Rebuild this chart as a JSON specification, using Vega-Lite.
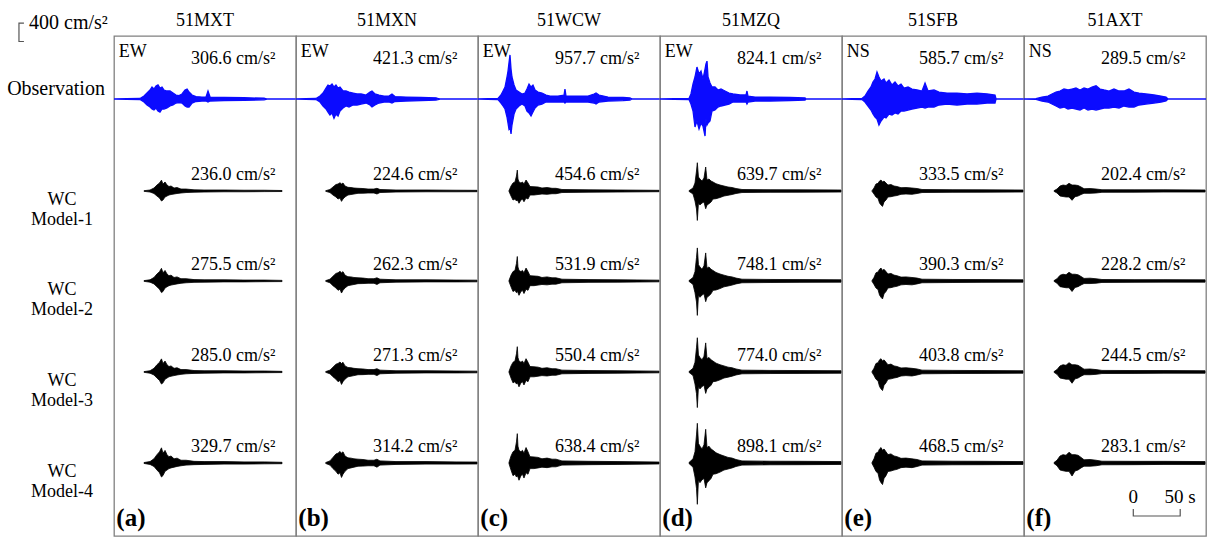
{
"$schema": "https://vega.github.io/schema/vega-lite/v6.json",
"background": "white",
"padding": {"left": 6, "top": 12, "right": 0, "bottom": 0},
"data": {"values": "k,s,r,t,hi,lo,o,lab\nw,51MXT,O,0,0,0\nw,51MXT,O,27.7,11,-11\nw,51MXT,O,32,65,-65\nw,51MXT,O,35.2,130,-130\nw,51MXT,O,38.4,196,-174\nw,51MXT,O,40.5,261,-217\nw,51MXT,O,42.6,217,-239\nw,51MXT,O,44.8,283,-196\nw,51MXT,O,46.9,306,-261\nw,51MXT,O,49,239,-283\nw,51MXT,O,51.2,261,-217\nw,51MXT,O,53.3,196,-217\nw,51MXT,O,56.5,174,-196\nw,51MXT,O,59.7,174,-152\nw,51MXT,O,62.9,130,-130\nw,51MXT,O,66.1,87,-87\nw,51MXT,O,69.3,76,-76\nw,51MXT,O,72.5,109,-87\nw,51MXT,O,75.7,196,-152\nw,51MXT,O,77.9,217,-174\nw,51MXT,O,80,152,-174\nw,51MXT,O,83.2,87,-87\nw,51MXT,O,87.4,54,-54\nw,51MXT,O,93.8,43,-43\nw,51MXT,O,98.1,43,-43\nw,51MXT,O,100.2,174,-65\nw,51MXT,O,102.4,43,-43\nw,51MXT,O,117.3,33,-33\nw,51MXT,O,138.6,28,-28\nw,51MXT,O,160,17,-17\nw,51MXT,O,163,0,0\nw,51MXT,O,194,0,0\nw,51MXN,O,0,0,0\nw,51MXN,O,21.3,11,-11\nw,51MXN,O,25.6,65,-65\nw,51MXN,O,28.8,130,-152\nw,51MXN,O,32,239,-217\nw,51MXN,O,34.1,304,-283\nw,51MXN,O,36.2,283,-348\nw,51MXN,O,38.4,326,-304\nw,51MXN,O,40.5,261,-421\nw,51MXN,O,42.6,304,-326\nw,51MXN,O,44.8,239,-370\nw,51MXN,O,46.9,261,-261\nw,51MXN,O,50.1,174,-196\nw,51MXN,O,53.3,174,-152\nw,51MXN,O,56.5,152,-174\nw,51MXN,O,60.8,130,-130\nw,51MXN,O,65,109,-130\nw,51MXN,O,69.3,109,-109\nw,51MXN,O,74.6,87,-87\nw,51MXN,O,78.9,152,-130\nw,51MXN,O,81,174,-174\nw,51MXN,O,84.2,109,-130\nw,51MXN,O,88.5,87,-87\nw,51MXN,O,93.8,65,-65\nw,51MXN,O,99.1,65,-65\nw,51MXN,O,102.3,109,-87\nw,51MXN,O,105.5,54,-54\nw,51MXN,O,117.3,43,-43\nw,51MXN,O,133.3,33,-33\nw,51MXN,O,149.2,26,-22\nw,51MXN,O,153.5,0,0\nw,51MXN,O,194,0,0\nw,51WCW,O,0,0,0\nw,51WCW,O,21.3,11,-11\nw,51WCW,O,24.5,87,-87\nw,51WCW,O,26.7,174,-152\nw,51WCW,O,28.8,261,-217\nw,51WCW,O,30.9,478,-391\nw,51WCW,O,32,609,-522\nw,51WCW,O,33,783,-652\nw,51WCW,O,34.1,958,-609\nw,51WCW,O,35.2,652,-761\nw,51WCW,O,36.2,478,-565\nw,51WCW,O,38.4,304,-326\nw,51WCW,O,40.5,196,-217\nw,51WCW,O,43.7,152,-152\nw,51WCW,O,46.9,109,-109\nw,51WCW,O,50.1,130,-152\nw,51WCW,O,52.2,217,-261\nw,51WCW,O,54.4,326,-304\nw,51WCW,O,56.5,261,-370\nw,51WCW,O,58.6,304,-283\nw,51WCW,O,60.8,196,-196\nw,51WCW,O,64,152,-130\nw,51WCW,O,68.2,130,-109\nw,51WCW,O,72.5,87,-65\nw,51WCW,O,76.8,65,-65\nw,51WCW,O,85.3,65,-65\nw,51WCW,O,91.7,87,-65\nw,51WCW,O,92.7,217,-87\nw,51WCW,O,93.8,65,-65\nw,51WCW,O,101.3,65,-65\nw,51WCW,O,117.3,65,-65\nw,51WCW,O,123.7,109,-87\nw,51WCW,O,125.8,130,-109\nw,51WCW,O,129,87,-65\nw,51WCW,O,138.6,43,-43\nw,51WCW,O,154.6,33,-33\nw,51WCW,O,162,22,-22\nw,51WCW,O,164.2,0,0\nw,51WCW,O,194,0,0\nw,51MZQ,O,0,0,0\nw,51MZQ,O,30.9,11,-11\nw,51MZQ,O,33,109,-109\nw,51MZQ,O,35.2,326,-261\nw,51MZQ,O,37.3,478,-609\nw,51MZQ,O,39.4,696,-478\nw,51MZQ,O,41.6,543,-652\nw,51MZQ,O,43.7,609,-522\nw,51MZQ,O,45.8,435,-587\nw,51MZQ,O,48,652,-804\nw,51MZQ,O,49,761,-435\nw,51MZQ,O,50.1,824,-565\nw,51MZQ,O,51.2,478,-522\nw,51MZQ,O,53.3,348,-478\nw,51MZQ,O,55.4,261,-261\nw,51MZQ,O,58.6,261,-239\nw,51MZQ,O,61.8,196,-174\nw,51MZQ,O,65,217,-152\nw,51MZQ,O,69.3,174,-130\nw,51MZQ,O,73.6,130,-109\nw,51MZQ,O,77.8,109,-65\nw,51MZQ,O,85.3,87,-65\nw,51MZQ,O,91.7,87,-65\nw,51MZQ,O,92.7,174,-109\nw,51MZQ,O,93.8,65,-65\nw,51MZQ,O,101.3,43,-43\nw,51MZQ,O,117.3,43,-43\nw,51MZQ,O,138.6,33,-33\nw,51MZQ,O,154.6,22,-22\nw,51MZQ,O,155.6,0,0\nw,51MZQ,O,194,0,0\nw,51SFB,O,0,0,0\nw,51SFB,O,21.3,11,-11\nw,51SFB,O,24.5,65,-65\nw,51SFB,O,27.7,174,-152\nw,51SFB,O,30.9,261,-239\nw,51SFB,O,33,370,-326\nw,51SFB,O,35.2,435,-391\nw,51SFB,O,37.3,586,-435\nw,51SFB,O,39.4,478,-565\nw,51SFB,O,41.6,391,-478\nw,51SFB,O,44.8,435,-391\nw,51SFB,O,46.9,348,-413\nw,51SFB,O,50.1,413,-326\nw,51SFB,O,53.3,304,-348\nw,51SFB,O,56.5,370,-304\nw,51SFB,O,59.7,283,-326\nw,51SFB,O,62.9,326,-261\nw,51SFB,O,66.1,239,-261\nw,51SFB,O,70.4,261,-239\nw,51SFB,O,74.6,217,-217\nw,51SFB,O,80,196,-196\nw,51SFB,O,85.3,174,-174\nw,51SFB,O,88.5,348,-196\nw,51SFB,O,91.7,174,-174\nw,51SFB,O,98.1,196,-174\nw,51SFB,O,103.4,152,-130\nw,51SFB,O,111.9,130,-109\nw,51SFB,O,122.6,130,-130\nw,51SFB,O,133.3,109,-109\nw,51SFB,O,143.9,130,-109\nw,51SFB,O,154.6,109,-87\nw,51SFB,O,163.1,87,-87\nw,51SFB,O,164.2,0,0\nw,51SFB,O,194,0,0\nw,51AXT,O,0,0,0\nw,51AXT,O,12.8,7,-7\nw,51AXT,O,19.2,43,-43\nw,51AXT,O,25.6,65,-65\nw,51AXT,O,29.8,109,-109\nw,51AXT,O,34.1,152,-152\nw,51AXT,O,38.4,174,-196\nw,51AXT,O,42.6,217,-174\nw,51AXT,O,46.9,196,-217\nw,51AXT,O,51.2,217,-196\nw,51AXT,O,55.4,239,-217\nw,51AXT,O,59.7,196,-239\nw,51AXT,O,64,239,-196\nw,51AXT,O,68.2,217,-239\nw,51AXT,O,72.5,261,-217\nw,51AXT,O,76.8,290,-239\nw,51AXT,O,81,217,-217\nw,51AXT,O,85.3,196,-196\nw,51AXT,O,90.6,174,-196\nw,51AXT,O,95.9,217,-174\nw,51AXT,O,101.3,174,-196\nw,51AXT,O,106.6,174,-152\nw,51AXT,O,111.9,217,-174\nw,51AXT,O,117.3,152,-174\nw,51AXT,O,122.6,130,-130\nw,51AXT,O,130,109,-109\nw,51AXT,O,138.6,87,-87\nw,51AXT,O,146,65,-65\nw,51AXT,O,151.4,43,-43\nw,51AXT,O,153.5,0,0\nw,51AXT,O,194,0,0\nw,51MXT,M1,32,7,-7\nw,51MXT,M1,38.4,22,-22\nw,51MXT,M1,42.6,65,-54\nw,51MXT,M1,45.8,130,-109\nw,51MXT,M1,48.5,174,-152\nw,51MXT,M1,50.6,236,-217\nw,51MXT,M1,52.2,152,-196\nw,51MXT,M1,54.4,196,-130\nw,51MXT,M1,56.5,130,-109\nw,51MXT,M1,58.6,98,-87\nw,51MXT,M1,60.8,109,-76\nw,51MXT,M1,64,65,-65\nw,51MXT,M1,67.2,76,-54\nw,51MXT,M1,71.4,43,-43\nw,51MXT,M1,76.8,43,-33\nw,51MXT,M1,85.3,26,-26\nw,51MXT,M1,96,22,-22\nw,51MXT,M1,117.3,22,-17\nw,51MXT,M1,138.6,17,-17\nw,51MXT,M1,160,17,-13\nw,51MXT,M1,179.1,11,-11\nw,51MXT,M2,32,8,-8\nw,51MXT,M2,38.4,26,-26\nw,51MXT,M2,42.6,76,-63\nw,51MXT,M2,45.8,152,-127\nw,51MXT,M2,48.5,203,-177\nw,51MXT,M2,50.6,275,-253\nw,51MXT,M2,52.2,177,-229\nw,51MXT,M2,54.4,229,-152\nw,51MXT,M2,56.5,152,-127\nw,51MXT,M2,58.6,114,-102\nw,51MXT,M2,60.8,127,-89\nw,51MXT,M2,64,76,-76\nw,51MXT,M2,67.2,89,-63\nw,51MXT,M2,71.4,50,-50\nw,51MXT,M2,76.8,50,-39\nw,51MXT,M2,85.3,30,-30\nw,51MXT,M2,96,26,-26\nw,51MXT,M2,117.3,26,-20\nw,51MXT,M2,138.6,20,-20\nw,51MXT,M2,160,20,-15\nw,51MXT,M2,179.1,13,-13\nw,51MXT,M3,32,8,-8\nw,51MXT,M3,38.4,27,-27\nw,51MXT,M3,42.6,79,-65\nw,51MXT,M3,45.8,157,-132\nw,51MXT,M3,48.5,210,-184\nw,51MXT,M3,50.6,285,-262\nw,51MXT,M3,52.2,184,-237\nw,51MXT,M3,54.4,237,-157\nw,51MXT,M3,56.5,157,-132\nw,51MXT,M3,58.6,118,-105\nw,51MXT,M3,60.8,132,-92\nw,51MXT,M3,64,79,-79\nw,51MXT,M3,67.2,92,-65\nw,51MXT,M3,71.4,52,-52\nw,51MXT,M3,76.8,52,-40\nw,51MXT,M3,85.3,31,-31\nw,51MXT,M3,96,27,-27\nw,51MXT,M3,117.3,27,-21\nw,51MXT,M3,138.6,21,-21\nw,51MXT,M3,160,21,-16\nw,51MXT,M3,179.1,13,-13\nw,51MXT,M4,32,10,-10\nw,51MXT,M4,38.4,31,-31\nw,51MXT,M4,42.6,91,-75\nw,51MXT,M4,45.8,182,-152\nw,51MXT,M4,48.5,243,-212\nw,51MXT,M4,50.6,330,-304\nw,51MXT,M4,52.2,212,-274\nw,51MXT,M4,54.4,274,-182\nw,51MXT,M4,56.5,182,-152\nw,51MXT,M4,58.6,137,-122\nw,51MXT,M4,60.8,152,-106\nw,51MXT,M4,64,91,-91\nw,51MXT,M4,67.2,106,-75\nw,51MXT,M4,71.4,60,-60\nw,51MXT,M4,76.8,60,-46\nw,51MXT,M4,85.3,36,-36\nw,51MXT,M4,96,31,-31\nw,51MXT,M4,117.3,31,-24\nw,51MXT,M4,138.6,24,-24\nw,51MXT,M4,160,24,-18\nw,51MXT,M4,179.1,15,-15\nw,51MXN,M1,31.7,7,-7\nw,51MXN,M1,36.2,33,-33\nw,51MXN,M1,39.4,87,-87\nw,51MXN,M1,42.6,141,-130\nw,51MXN,M1,44.8,152,-174\nw,51MXN,M1,46.9,180,-152\nw,51MXN,M1,48.5,152,-225\nw,51MXN,M1,50.1,174,-174\nw,51MXN,M1,52.2,109,-130\nw,51MXN,M1,55.4,80,-87\nw,51MXN,M1,58.6,76,-76\nw,51MXN,M1,61.8,65,-65\nw,51MXN,M1,66.1,59,-50\nw,51MXN,M1,71.4,54,-48\nw,51MXN,M1,76.8,43,-43\nw,51MXN,M1,83.1,43,-43\nw,51MXN,M1,86.3,59,-65\nw,51MXN,M1,89.5,33,-33\nw,51MXN,M1,106.6,22,-22\nw,51MXN,M1,138.6,22,-17\nw,51MXN,M1,170.6,17,-17\nw,51MXN,M1,193,15,-15\nw,51MXN,M2,31.7,8,-8\nw,51MXN,M2,36.2,39,-39\nw,51MXN,M2,39.4,102,-102\nw,51MXN,M2,42.6,165,-152\nw,51MXN,M2,44.8,178,-203\nw,51MXN,M2,46.9,210,-178\nw,51MXN,M2,48.5,178,-262\nw,51MXN,M2,50.1,203,-203\nw,51MXN,M2,52.2,127,-152\nw,51MXN,M2,55.4,93,-102\nw,51MXN,M2,58.6,89,-89\nw,51MXN,M2,61.8,76,-76\nw,51MXN,M2,66.1,69,-58\nw,51MXN,M2,71.4,63,-56\nw,51MXN,M2,76.8,50,-50\nw,51MXN,M2,83.1,50,-50\nw,51MXN,M2,86.3,69,-76\nw,51MXN,M2,89.5,39,-39\nw,51MXN,M2,106.6,26,-26\nw,51MXN,M2,138.6,26,-20\nw,51MXN,M2,170.6,20,-20\nw,51MXN,M2,193,18,-18\nw,51MXN,M3,31.7,8,-8\nw,51MXN,M3,36.2,40,-40\nw,51MXN,M3,39.4,105,-105\nw,51MXN,M3,42.6,170,-157\nw,51MXN,M3,44.8,184,-210\nw,51MXN,M3,46.9,217,-184\nw,51MXN,M3,48.5,184,-271\nw,51MXN,M3,50.1,210,-210\nw,51MXN,M3,52.2,132,-157\nw,51MXN,M3,55.4,97,-105\nw,51MXN,M3,58.6,92,-92\nw,51MXN,M3,61.8,79,-79\nw,51MXN,M3,66.1,71,-60\nw,51MXN,M3,71.4,65,-58\nw,51MXN,M3,76.8,52,-52\nw,51MXN,M3,83.1,52,-52\nw,51MXN,M3,86.3,71,-79\nw,51MXN,M3,89.5,40,-40\nw,51MXN,M3,106.6,27,-27\nw,51MXN,M3,138.6,27,-21\nw,51MXN,M3,170.6,21,-21\nw,51MXN,M3,193,18,-18\nw,51MXN,M4,31.7,10,-10\nw,51MXN,M4,36.2,46,-46\nw,51MXN,M4,39.4,122,-122\nw,51MXN,M4,42.6,197,-182\nw,51MXN,M4,44.8,213,-243\nw,51MXN,M4,46.9,252,-213\nw,51MXN,M4,48.5,213,-314\nw,51MXN,M4,50.1,243,-243\nw,51MXN,M4,52.2,152,-182\nw,51MXN,M4,55.4,112,-122\nw,51MXN,M4,58.6,106,-106\nw,51MXN,M4,61.8,91,-91\nw,51MXN,M4,66.1,83,-70\nw,51MXN,M4,71.4,76,-67\nw,51MXN,M4,76.8,60,-60\nw,51MXN,M4,83.1,60,-60\nw,51MXN,M4,86.3,83,-91\nw,51MXN,M4,89.5,46,-46\nw,51MXN,M4,106.6,31,-31\nw,51MXN,M4,138.6,31,-24\nw,51MXN,M4,170.6,24,-24\nw,51MXN,M4,193,21,-21\nw,51WCW,M1,33,7,-7\nw,51WCW,M1,35.2,109,-109\nw,51WCW,M1,37.3,174,-196\nw,51WCW,M1,39.4,196,-174\nw,51WCW,M1,41,326,-217\nw,51WCW,M1,41.9,455,-196\nw,51WCW,M1,42.6,261,-217\nw,51WCW,M1,43.7,196,-267\nw,51WCW,M1,45.8,174,-196\nw,51WCW,M1,47.4,196,-174\nw,51WCW,M1,49,152,-233\nw,51WCW,M1,51.2,239,-152\nw,51WCW,M1,53.3,174,-174\nw,51WCW,M1,55.4,98,-87\nw,51WCW,M1,59.7,93,-87\nw,51WCW,M1,64,87,-76\nw,51WCW,M1,68.2,65,-65\nw,51WCW,M1,73.6,76,-72\nw,51WCW,M1,78.9,59,-59\nw,51WCW,M1,83.1,59,-59\nw,51WCW,M1,89.5,33,-33\nw,51WCW,M1,117.3,26,-26\nw,51WCW,M1,149.2,22,-22\nw,51WCW,M1,193,15,-15\nw,51WCW,M2,33,8,-8\nw,51WCW,M2,35.2,128,-128\nw,51WCW,M2,37.3,204,-229\nw,51WCW,M2,39.4,229,-204\nw,51WCW,M2,41,381,-254\nw,51WCW,M2,41.9,532,-229\nw,51WCW,M2,42.6,305,-254\nw,51WCW,M2,43.7,229,-312\nw,51WCW,M2,45.8,204,-229\nw,51WCW,M2,47.4,229,-204\nw,51WCW,M2,49,178,-273\nw,51WCW,M2,51.2,280,-178\nw,51WCW,M2,53.3,204,-204\nw,51WCW,M2,55.4,115,-102\nw,51WCW,M2,59.7,109,-102\nw,51WCW,M2,64,102,-89\nw,51WCW,M2,68.2,76,-76\nw,51WCW,M2,73.6,89,-84\nw,51WCW,M2,78.9,69,-69\nw,51WCW,M2,83.1,69,-69\nw,51WCW,M2,89.5,39,-39\nw,51WCW,M2,117.3,30,-30\nw,51WCW,M2,149.2,26,-26\nw,51WCW,M2,193,18,-18\nw,51WCW,M3,33,8,-8\nw,51WCW,M3,35.2,132,-132\nw,51WCW,M3,37.3,211,-237\nw,51WCW,M3,39.4,237,-211\nw,51WCW,M3,41,395,-263\nw,51WCW,M3,41.9,550,-237\nw,51WCW,M3,42.6,316,-263\nw,51WCW,M3,43.7,237,-323\nw,51WCW,M3,45.8,211,-237\nw,51WCW,M3,47.4,237,-211\nw,51WCW,M3,49,184,-282\nw,51WCW,M3,51.2,289,-184\nw,51WCW,M3,53.3,211,-211\nw,51WCW,M3,55.4,119,-105\nw,51WCW,M3,59.7,113,-105\nw,51WCW,M3,64,105,-92\nw,51WCW,M3,68.2,79,-79\nw,51WCW,M3,73.6,92,-87\nw,51WCW,M3,78.9,71,-71\nw,51WCW,M3,83.1,71,-71\nw,51WCW,M3,89.5,40,-40\nw,51WCW,M3,117.3,31,-31\nw,51WCW,M3,149.2,27,-27\nw,51WCW,M3,193,18,-18\nw,51WCW,M4,33,10,-10\nw,51WCW,M4,35.2,153,-153\nw,51WCW,M4,37.3,244,-275\nw,51WCW,M4,39.4,275,-244\nw,51WCW,M4,41,458,-305\nw,51WCW,M4,41.9,638,-275\nw,51WCW,M4,42.6,366,-305\nw,51WCW,M4,43.7,275,-375\nw,51WCW,M4,45.8,244,-275\nw,51WCW,M4,47.4,275,-244\nw,51WCW,M4,49,213,-327\nw,51WCW,M4,51.2,336,-213\nw,51WCW,M4,53.3,244,-244\nw,51WCW,M4,55.4,138,-122\nw,51WCW,M4,59.7,131,-122\nw,51WCW,M4,64,122,-107\nw,51WCW,M4,68.2,91,-91\nw,51WCW,M4,73.6,107,-101\nw,51WCW,M4,78.9,83,-83\nw,51WCW,M4,83.1,83,-83\nw,51WCW,M4,89.5,46,-46\nw,51WCW,M4,117.3,37,-37\nw,51WCW,M4,149.2,31,-31\nw,51WCW,M4,193,21,-21\nw,51MZQ,M1,30.9,7,-7\nw,51MZQ,M1,35.2,65,-65\nw,51MZQ,M1,37.3,174,-217\nw,51MZQ,M1,38.9,435,-391\nw,51MZQ,M1,39.8,615,-640\nw,51MZQ,M1,41,304,-261\nw,51MZQ,M1,42.6,261,-304\nw,51MZQ,M1,44.8,217,-261\nw,51MZQ,M1,46.9,283,-239\nw,51MZQ,M1,48.7,522,-385\nw,51MZQ,M1,50.1,239,-304\nw,51MZQ,M1,52.2,261,-276\nw,51MZQ,M1,54.4,217,-239\nw,51MZQ,M1,56.5,196,-174\nw,51MZQ,M1,59.7,159,-167\nw,51MZQ,M1,64,130,-141\nw,51MZQ,M1,68.2,109,-109\nw,51MZQ,M1,72.5,87,-93\nw,51MZQ,M1,76.8,76,-76\nw,51MZQ,M1,81,54,-54\nw,51MZQ,M1,87.4,33,-33\nw,51MZQ,M1,117.3,28,-28\nw,51MZQ,M1,149.2,26,-26\nw,51MZQ,M1,193,22,-22\nw,51MZQ,M2,30.9,8,-8\nw,51MZQ,M2,35.2,76,-76\nw,51MZQ,M2,37.3,203,-254\nw,51MZQ,M2,38.9,509,-457\nw,51MZQ,M2,39.8,719,-748\nw,51MZQ,M2,41,355,-305\nw,51MZQ,M2,42.6,305,-355\nw,51MZQ,M2,44.8,254,-305\nw,51MZQ,M2,46.9,331,-279\nw,51MZQ,M2,48.7,610,-450\nw,51MZQ,M2,50.1,279,-355\nw,51MZQ,M2,52.2,305,-323\nw,51MZQ,M2,54.4,254,-279\nw,51MZQ,M2,56.5,229,-203\nw,51MZQ,M2,59.7,186,-195\nw,51MZQ,M2,64,152,-165\nw,51MZQ,M2,68.2,127,-127\nw,51MZQ,M2,72.5,102,-109\nw,51MZQ,M2,76.8,89,-89\nw,51MZQ,M2,81,63,-63\nw,51MZQ,M2,87.4,39,-39\nw,51MZQ,M2,117.3,33,-33\nw,51MZQ,M2,149.2,30,-30\nw,51MZQ,M2,193,26,-26\nw,51MZQ,M3,30.9,8,-8\nw,51MZQ,M3,35.2,79,-79\nw,51MZQ,M3,37.3,211,-263\nw,51MZQ,M3,38.9,526,-473\nw,51MZQ,M3,39.8,744,-774\nw,51MZQ,M3,41,368,-316\nw,51MZQ,M3,42.6,316,-368\nw,51MZQ,M3,44.8,263,-316\nw,51MZQ,M3,46.9,342,-289\nw,51MZQ,M3,48.7,632,-466\nw,51MZQ,M3,50.1,289,-368\nw,51MZQ,M3,52.2,316,-334\nw,51MZQ,M3,54.4,263,-289\nw,51MZQ,M3,56.5,237,-211\nw,51MZQ,M3,59.7,192,-202\nw,51MZQ,M3,64,157,-171\nw,51MZQ,M3,68.2,132,-132\nw,51MZQ,M3,72.5,105,-113\nw,51MZQ,M3,76.8,92,-92\nw,51MZQ,M3,81,65,-65\nw,51MZQ,M3,87.4,40,-40\nw,51MZQ,M3,117.3,34,-34\nw,51MZQ,M3,149.2,31,-31\nw,51MZQ,M3,193,27,-27\nw,51MZQ,M4,30.9,10,-10\nw,51MZQ,M4,35.2,91,-91\nw,51MZQ,M4,37.3,244,-305\nw,51MZQ,M4,38.9,611,-549\nw,51MZQ,M4,39.8,863,-898\nw,51MZQ,M4,41,427,-366\nw,51MZQ,M4,42.6,366,-427\nw,51MZQ,M4,44.8,305,-366\nw,51MZQ,M4,46.9,397,-336\nw,51MZQ,M4,48.7,733,-541\nw,51MZQ,M4,50.1,336,-427\nw,51MZQ,M4,52.2,366,-388\nw,51MZQ,M4,54.4,305,-336\nw,51MZQ,M4,56.5,275,-244\nw,51MZQ,M4,59.7,223,-234\nw,51MZQ,M4,64,183,-198\nw,51MZQ,M4,68.2,153,-153\nw,51MZQ,M4,72.5,122,-131\nw,51MZQ,M4,76.8,107,-107\nw,51MZQ,M4,81,76,-76\nw,51MZQ,M4,87.4,46,-46\nw,51MZQ,M4,117.3,39,-39\nw,51MZQ,M4,149.2,37,-37\nw,51MZQ,M4,193,31,-31\nw,51SFB,M1,32,7,-7\nw,51SFB,M1,34.1,65,-65\nw,51SFB,M1,36.2,152,-130\nw,51SFB,M1,38.4,167,-159\nw,51SFB,M1,40,217,-261\nw,51SFB,M1,41.6,239,-304\nw,51SFB,M1,43.2,196,-334\nw,51SFB,M1,44.8,217,-239\nw,51SFB,M1,46.9,174,-196\nw,51SFB,M1,49,130,-130\nw,51SFB,M1,52.2,141,-124\nw,51SFB,M1,55.4,109,-109\nw,51SFB,M1,58.6,98,-98\nw,51SFB,M1,62.9,72,-72\nw,51SFB,M1,68.2,76,-65\nw,51SFB,M1,74.6,65,-72\nw,51SFB,M1,80,54,-54\nw,51SFB,M1,85.3,33,-33\nw,51SFB,M1,117.3,28,-28\nw,51SFB,M1,149.2,26,-26\nw,51SFB,M1,193,22,-22\nw,51SFB,M2,32,8,-8\nw,51SFB,M2,34.1,76,-76\nw,51SFB,M2,36.2,178,-152\nw,51SFB,M2,38.4,195,-186\nw,51SFB,M2,40,254,-305\nw,51SFB,M2,41.6,280,-356\nw,51SFB,M2,43.2,229,-390\nw,51SFB,M2,44.8,254,-280\nw,51SFB,M2,46.9,204,-229\nw,51SFB,M2,49,152,-152\nw,51SFB,M2,52.2,165,-145\nw,51SFB,M2,55.4,128,-128\nw,51SFB,M2,58.6,115,-115\nw,51SFB,M2,62.9,84,-84\nw,51SFB,M2,68.2,89,-76\nw,51SFB,M2,74.6,76,-84\nw,51SFB,M2,80,63,-63\nw,51SFB,M2,85.3,39,-39\nw,51SFB,M2,117.3,33,-33\nw,51SFB,M2,149.2,30,-30\nw,51SFB,M2,193,26,-26\nw,51SFB,M3,32,8,-8\nw,51SFB,M3,34.1,79,-79\nw,51SFB,M3,36.2,184,-157\nw,51SFB,M3,38.4,202,-193\nw,51SFB,M3,40,263,-316\nw,51SFB,M3,41.6,289,-368\nw,51SFB,M3,43.2,237,-404\nw,51SFB,M3,44.8,263,-289\nw,51SFB,M3,46.9,211,-237\nw,51SFB,M3,49,157,-157\nw,51SFB,M3,52.2,171,-150\nw,51SFB,M3,55.4,132,-132\nw,51SFB,M3,58.6,119,-119\nw,51SFB,M3,62.9,87,-87\nw,51SFB,M3,68.2,92,-79\nw,51SFB,M3,74.6,79,-87\nw,51SFB,M3,80,65,-65\nw,51SFB,M3,85.3,40,-40\nw,51SFB,M3,117.3,34,-34\nw,51SFB,M3,149.2,31,-31\nw,51SFB,M3,193,27,-27\nw,51SFB,M4,32,10,-10\nw,51SFB,M4,34.1,91,-91\nw,51SFB,M4,36.2,214,-183\nw,51SFB,M4,38.4,235,-223\nw,51SFB,M4,40,305,-367\nw,51SFB,M4,41.6,336,-427\nw,51SFB,M4,43.2,275,-469\nw,51SFB,M4,44.8,305,-336\nw,51SFB,M4,46.9,244,-275\nw,51SFB,M4,49,183,-183\nw,51SFB,M4,52.2,198,-174\nw,51SFB,M4,55.4,153,-153\nw,51SFB,M4,58.6,138,-138\nw,51SFB,M4,62.9,101,-101\nw,51SFB,M4,68.2,107,-91\nw,51SFB,M4,74.6,91,-101\nw,51SFB,M4,80,76,-76\nw,51SFB,M4,85.3,46,-46\nw,51SFB,M4,117.3,39,-39\nw,51SFB,M4,149.2,37,-37\nw,51SFB,M4,193,31,-31\nw,51AXT,M1,32,7,-7\nw,51AXT,M1,35.2,43,-43\nw,51AXT,M1,38.4,109,-109\nw,51AXT,M1,41.6,130,-120\nw,51AXT,M1,44.8,120,-130\nw,51AXT,M1,48,167,-130\nw,51AXT,M1,51.2,130,-202\nw,51AXT,M1,54.4,130,-124\nw,51AXT,M1,57.6,120,-109\nw,51AXT,M1,60.8,87,-76\nw,51AXT,M1,64,50,-50\nw,51AXT,M1,70.4,54,-50\nw,51AXT,M1,76.8,43,-43\nw,51AXT,M1,83.1,28,-28\nw,51AXT,M1,117.3,26,-26\nw,51AXT,M1,149.2,26,-22\nw,51AXT,M1,193,22,-22\nw,51AXT,M2,32,8,-8\nw,51AXT,M2,35.2,48,-48\nw,51AXT,M2,38.4,123,-123\nw,51AXT,M2,41.6,147,-135\nw,51AXT,M2,44.8,135,-147\nw,51AXT,M2,48,188,-147\nw,51AXT,M2,51.2,147,-228\nw,51AXT,M2,54.4,147,-140\nw,51AXT,M2,57.6,135,-123\nw,51AXT,M2,60.8,98,-86\nw,51AXT,M2,64,56,-56\nw,51AXT,M2,70.4,61,-56\nw,51AXT,M2,76.8,48,-48\nw,51AXT,M2,83.1,32,-32\nw,51AXT,M2,117.3,29,-29\nw,51AXT,M2,149.2,29,-25\nw,51AXT,M2,193,25,-25\nw,51AXT,M3,32,8,-8\nw,51AXT,M3,35.2,52,-52\nw,51AXT,M3,38.4,132,-132\nw,51AXT,M3,41.6,157,-145\nw,51AXT,M3,44.8,145,-157\nw,51AXT,M3,48,202,-157\nw,51AXT,M3,51.2,157,-245\nw,51AXT,M3,54.4,157,-150\nw,51AXT,M3,57.6,145,-132\nw,51AXT,M3,60.8,105,-92\nw,51AXT,M3,64,60,-60\nw,51AXT,M3,70.4,65,-60\nw,51AXT,M3,76.8,52,-52\nw,51AXT,M3,83.1,34,-34\nw,51AXT,M3,117.3,31,-31\nw,51AXT,M3,149.2,31,-27\nw,51AXT,M3,193,27,-27\nw,51AXT,M4,32,10,-10\nw,51AXT,M4,35.2,60,-60\nw,51AXT,M4,38.4,152,-152\nw,51AXT,M4,41.6,182,-168\nw,51AXT,M4,44.8,168,-182\nw,51AXT,M4,48,234,-182\nw,51AXT,M4,51.2,182,-283\nw,51AXT,M4,54.4,182,-173\nw,51AXT,M4,57.6,168,-152\nw,51AXT,M4,60.8,122,-106\nw,51AXT,M4,64,70,-70\nw,51AXT,M4,70.4,76,-70\nw,51AXT,M4,76.8,60,-60\nw,51AXT,M4,83.1,39,-39\nw,51AXT,M4,117.3,36,-36\nw,51AXT,M4,149.2,36,-31\nw,51AXT,M4,193,31,-31\np,51MXT,O,,,,,306.6 cm/s²\np,51MXN,O,,,,,421.3 cm/s²\np,51WCW,O,,,,,957.7 cm/s²\np,51MZQ,O,,,,,824.1 cm/s²\np,51SFB,O,,,,,585.7 cm/s²\np,51AXT,O,,,,,289.5 cm/s²\np,51MXT,M1,,,,,236.0 cm/s²\np,51MXN,M1,,,,,224.6 cm/s²\np,51WCW,M1,,,,,454.6 cm/s²\np,51MZQ,M1,,,,,639.7 cm/s²\np,51SFB,M1,,,,,333.5 cm/s²\np,51AXT,M1,,,,,202.4 cm/s²\np,51MXT,M2,,,,,275.5 cm/s²\np,51MXN,M2,,,,,262.3 cm/s²\np,51WCW,M2,,,,,531.9 cm/s²\np,51MZQ,M2,,,,,748.1 cm/s²\np,51SFB,M2,,,,,390.3 cm/s²\np,51AXT,M2,,,,,228.2 cm/s²\np,51MXT,M3,,,,,285.0 cm/s²\np,51MXN,M3,,,,,271.3 cm/s²\np,51WCW,M3,,,,,550.4 cm/s²\np,51MZQ,M3,,,,,774.0 cm/s²\np,51SFB,M3,,,,,403.8 cm/s²\np,51AXT,M3,,,,,244.5 cm/s²\np,51MXT,M4,,,,,329.7 cm/s²\np,51MXN,M4,,,,,314.2 cm/s²\np,51WCW,M4,,,,,638.4 cm/s²\np,51MZQ,M4,,,,,898.1 cm/s²\np,51SFB,M4,,,,,468.5 cm/s²\np,51AXT,M4,,,,,283.1 cm/s²\nc,51MXT,O,,,,,EW\nc,51MXN,O,,,,,EW\nc,51WCW,O,,,,,EW\nc,51MZQ,O,,,,,EW\nc,51SFB,O,,,,,NS\nc,51AXT,O,,,,,NS\nf,51MXT,M4,,,,,(a)\nf,51MXN,M4,,,,,(b)\nf,51WCW,M4,,,,,(c)\nf,51MZQ,M4,,,,,(d)\nf,51SFB,M4,,,,,(e)\nf,51AXT,M4,,,,,(f)\nrl,51MXT,O,,,,,Observation\nrl,51MXT,M1,,,,,WC Model-1\nrl,51MXT,M2,,,,,WC Model-2\nrl,51MXT,M3,,,,,WC Model-3\nrl,51MXT,M4,,,,,WC Model-4\nbk,51MXT,O,-96,1650,,1,\nbk,51MXT,O,-101.3,1650,,2,\nbk,51MXT,O,-101.3,1250,,3,\nbk,51MXT,O,-96,1250,,4,\nbt,51MXT,O,,,,,400 cm/s²\nsb,51AXT,M4,116.5,-1000,,1,\nsb,51AXT,M4,116.5,-1152,,2,0\nsb,51AXT,M4,166.5,-1152,,3,\nsb,51AXT,M4,166.5,-1000,,4,50 s", "format": {"type": "csv", "parse": {"t": "number", "hi": "number", "lo": "number", "o": "number"}}},
"facet": {"column": {"field": "s", "type": "nominal", "sort": ["51MXT", "51MXN", "51WCW", "51MZQ", "51SFB", "51AXT"], "title": null, "header": {"labelFont": "Liberation Serif", "labelFontSize": 18, "labelColor": "black", "labelPadding": 6}}},
"spacing": 0,
"bounds": "flush",
"spec": {
  "width": 182,
  "height": 500,
  "layer": [
    {"transform": [{"filter": "datum.r == 'O'"}],
     "layer": [
       {"transform": [{"filter": "datum.k == 'w'"}], "mark": {"type": "area", "fill": "#0b0bff", "stroke": "#0b0bff", "strokeWidth": 1.3, "opacity": 1},
        "encoding": {"x": {"field": "t", "type": "quantitative", "scale": {"domain": [0, 194], "nice": false, "zero": false}, "axis": null}, "y": {"field": "hi", "type": "quantitative", "scale": {"domain": [-9500, 1370], "nice": false, "zero": false}, "axis": null}, "y2": {"field": "lo"}}},
       {"transform": [{"filter": "datum.k == 'p'"}], "mark": {"type": "text", "align": "left", "baseline": "alphabetic"},
        "encoding": {"x": {"datum": 82, "type": "quantitative"}, "y": {"datum": 761, "type": "quantitative", "scale": {"domain": [-9500, 1370], "nice": false, "zero": false}, "axis": null}, "text": {"field": "lab"}}},
       {"transform": [{"filter": "datum.k == 'c'"}], "mark": {"type": "text", "align": "left", "baseline": "alphabetic"},
        "encoding": {"x": {"datum": 5, "type": "quantitative"}, "y": {"datum": 913, "type": "quantitative", "scale": {"domain": [-9500, 1370], "nice": false, "zero": false}, "axis": null}, "text": {"field": "lab"}}},
       {"transform": [{"filter": "datum.k == 'rl'"}], "mark": {"type": "text", "align": "center", "baseline": "middle", "fontSize": 20},
        "encoding": {"x": {"datum": -61.8, "type": "quantitative"}, "y": {"datum": 217, "type": "quantitative", "scale": {"domain": [-9500, 1370], "nice": false, "zero": false}, "axis": null}, "text": {"field": "lab"}}},
       {"transform": [{"filter": "datum.k == 'bk'"}], "mark": {"type": "line", "stroke": "#555555", "strokeWidth": 1.2},
        "encoding": {"x": {"field": "t", "type": "quantitative"}, "y": {"field": "hi", "type": "quantitative", "scale": {"domain": [-9500, 1370], "nice": false, "zero": false}, "axis": null}, "order": {"field": "o", "type": "quantitative"}}},
       {"transform": [{"filter": "datum.k == 'bt'"}], "mark": {"type": "text", "align": "left", "baseline": "alphabetic", "fontSize": 20},
        "encoding": {"x": {"datum": -90.6, "type": "quantitative"}, "y": {"datum": 1522, "type": "quantitative", "scale": {"domain": [-9500, 1370], "nice": false, "zero": false}, "axis": null}, "text": {"field": "lab"}}}
     ]},
    {"transform": [{"filter": "datum.r == 'M1'"}],
     "layer": [
       {"transform": [{"filter": "datum.k == 'w'"}], "mark": {"type": "area", "fill": "black", "stroke": "black", "strokeWidth": 0.8, "opacity": 1},
        "encoding": {"x": {"field": "t", "type": "quantitative"}, "y": {"field": "hi", "type": "quantitative", "scale": {"domain": [-7500, 3370], "nice": false, "zero": false}, "axis": null}, "y2": {"field": "lo"}}},
       {"transform": [{"filter": "datum.k == 'p'"}], "mark": {"type": "text", "align": "left", "baseline": "alphabetic"},
        "encoding": {"x": {"datum": 82, "type": "quantitative"}, "y": {"datum": 239, "type": "quantitative", "scale": {"domain": [-7500, 3370], "nice": false, "zero": false}, "axis": null}, "text": {"field": "lab"}}},
       {"transform": [{"filter": "datum.k == 'rl'"}], "mark": {"type": "text", "align": "center", "baseline": "middle", "lineBreak": " ", "lineHeight": 20},
        "encoding": {"x": {"datum": -55.4, "type": "quantitative"}, "y": {"datum": -196, "type": "quantitative", "scale": {"domain": [-7500, 3370], "nice": false, "zero": false}, "axis": null}, "text": {"field": "lab"}}}
     ]},
    {"transform": [{"filter": "datum.r == 'M2'"}],
     "layer": [
       {"transform": [{"filter": "datum.k == 'w'"}], "mark": {"type": "area", "fill": "black", "stroke": "black", "strokeWidth": 0.8, "opacity": 1},
        "encoding": {"x": {"field": "t", "type": "quantitative"}, "y": {"field": "hi", "type": "quantitative", "scale": {"domain": [-5544, 5326], "nice": false, "zero": false}, "axis": null}, "y2": {"field": "lo"}}},
       {"transform": [{"filter": "datum.k == 'p'"}], "mark": {"type": "text", "align": "left", "baseline": "alphabetic"},
        "encoding": {"x": {"datum": 82, "type": "quantitative"}, "y": {"datum": 239, "type": "quantitative", "scale": {"domain": [-5544, 5326], "nice": false, "zero": false}, "axis": null}, "text": {"field": "lab"}}},
       {"transform": [{"filter": "datum.k == 'rl'"}], "mark": {"type": "text", "align": "center", "baseline": "middle", "lineBreak": " ", "lineHeight": 20},
        "encoding": {"x": {"datum": -55.4, "type": "quantitative"}, "y": {"datum": -196, "type": "quantitative", "scale": {"domain": [-5544, 5326], "nice": false, "zero": false}, "axis": null}, "text": {"field": "lab"}}}
     ]},
    {"transform": [{"filter": "datum.r == 'M3'"}],
     "layer": [
       {"transform": [{"filter": "datum.k == 'w'"}], "mark": {"type": "area", "fill": "black", "stroke": "black", "strokeWidth": 0.8, "opacity": 1},
        "encoding": {"x": {"field": "t", "type": "quantitative"}, "y": {"field": "hi", "type": "quantitative", "scale": {"domain": [-3566, 7304], "nice": false, "zero": false}, "axis": null}, "y2": {"field": "lo"}}},
       {"transform": [{"filter": "datum.k == 'p'"}], "mark": {"type": "text", "align": "left", "baseline": "alphabetic"},
        "encoding": {"x": {"datum": 82, "type": "quantitative"}, "y": {"datum": 239, "type": "quantitative", "scale": {"domain": [-3566, 7304], "nice": false, "zero": false}, "axis": null}, "text": {"field": "lab"}}},
       {"transform": [{"filter": "datum.k == 'rl'"}], "mark": {"type": "text", "align": "center", "baseline": "middle", "lineBreak": " ", "lineHeight": 20},
        "encoding": {"x": {"datum": -55.4, "type": "quantitative"}, "y": {"datum": -196, "type": "quantitative", "scale": {"domain": [-3566, 7304], "nice": false, "zero": false}, "axis": null}, "text": {"field": "lab"}}}
     ]},
    {"transform": [{"filter": "datum.r == 'M4'"}],
     "layer": [
       {"transform": [{"filter": "datum.k == 'w'"}], "mark": {"type": "area", "fill": "black", "stroke": "black", "strokeWidth": 0.8, "opacity": 1},
        "encoding": {"x": {"field": "t", "type": "quantitative"}, "y": {"field": "hi", "type": "quantitative", "scale": {"domain": [-1587, 9283], "nice": false, "zero": false}, "axis": null}, "y2": {"field": "lo"}}},
       {"transform": [{"filter": "datum.k == 'p'"}], "mark": {"type": "text", "align": "left", "baseline": "alphabetic"},
        "encoding": {"x": {"datum": 82, "type": "quantitative"}, "y": {"datum": 239, "type": "quantitative", "scale": {"domain": [-1587, 9283], "nice": false, "zero": false}, "axis": null}, "text": {"field": "lab"}}},
       {"transform": [{"filter": "datum.k == 'rl'"}], "mark": {"type": "text", "align": "center", "baseline": "middle", "lineBreak": " ", "lineHeight": 20},
        "encoding": {"x": {"datum": -55.4, "type": "quantitative"}, "y": {"datum": -196, "type": "quantitative", "scale": {"domain": [-1587, 9283], "nice": false, "zero": false}, "axis": null}, "text": {"field": "lab"}}},
       {"transform": [{"filter": "datum.k == 'f'"}], "mark": {"type": "text", "align": "left", "baseline": "alphabetic", "fontSize": 25, "fontWeight": "bold"},
        "encoding": {"x": {"datum": 2.5, "type": "quantitative"}, "y": {"datum": -1370, "type": "quantitative", "scale": {"domain": [-1587, 9283], "nice": false, "zero": false}, "axis": null}, "text": {"field": "lab"}}},
       {"transform": [{"filter": "datum.k == 'sb'"}], "mark": {"type": "line", "stroke": "#555555", "strokeWidth": 1.2},
        "encoding": {"x": {"field": "t", "type": "quantitative"}, "y": {"field": "hi", "type": "quantitative", "scale": {"domain": [-1587, 9283], "nice": false, "zero": false}, "axis": null}, "order": {"field": "o", "type": "quantitative"}}},
       {"transform": [{"filter": "datum.k == 'sb' && datum.o % 2 == 0"}], "mark": {"type": "text", "align": "center", "baseline": "alphabetic", "fontSize": 19},
        "encoding": {"x": {"field": "t", "type": "quantitative"}, "y": {"datum": -870, "type": "quantitative", "scale": {"domain": [-1587, 9283], "nice": false, "zero": false}, "axis": null}, "text": {"field": "lab"}}}
     ]}
  ],
  "resolve": {"scale": {"y": "independent"}}
},
"config": {"view": {"stroke": "#808080", "strokeWidth": 1.3}, "text": {"font": "Liberation Serif", "fontSize": 18, "color": "black"}}
}
